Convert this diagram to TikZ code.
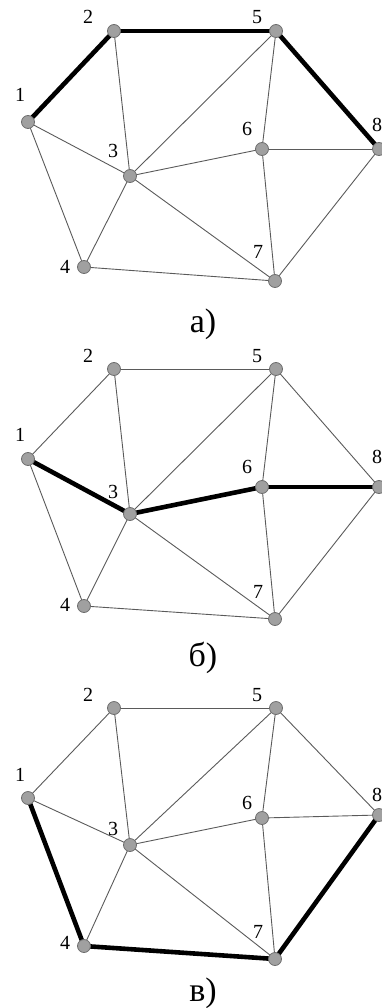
\documentclass[tikz,border=0pt]{standalone}
\usepackage{fontspec}
\setmainfont{Liberation Serif}
\usetikzlibrary{backgrounds}
\definecolor{vgray}{HTML}{A0A0A0}
\definecolor{vborder}{HTML}{6E6E6E}
\definecolor{egray}{HTML}{5A5A5A}
\tikzset{
  vert/.style={circle, fill=vgray, draw=vborder, line width=0.8pt, minimum size=13pt, inner sep=0pt},
  edgeln/.style={draw=egray, line width=0.9pt},
  hl/.style={draw=black, line width=4.6pt},
  num/.style={font=\fontsize{20}{20}\selectfont, inner sep=0pt},
  capt/.style={font=\fontsize{34}{34}\selectfont, inner sep=0pt, anchor=base}
}
\begin{document}
\begin{tikzpicture}[x=1pt,y=-1pt]
\useasboundingbox (0,0) rectangle (382,1008);
% graph a
\node[vert] (a1) at (28,122) {};
\node[vert] (a2) at (114,31) {};
\node[vert] (a5) at (276,31) {};
\node[vert] (a8) at (379,149) {};
\node[vert] (a6) at (262,149) {};
\node[vert] (a3) at (130,176) {};
\node[vert] (a4) at (84,267) {};
\node[vert] (a7) at (275,281) {};
\node[num] (la1) at (20,95) {1};
\node[num] (la2) at (88,17) {2};
\node[num] (la5) at (257,17) {5};
\node[num] (la6) at (247,129) {6};
\node[num] (la3) at (113,151) {3};
\node[num] (la8) at (377,125) {8};
\node[num] (la4) at (65,267) {4};
\node[num] (la7) at (258,252) {7};
\node[capt] (capa) at (203,332) {а)};
% graph b
\node[vert] (b1) at (28,459) {};
\node[vert] (b2) at (114,369) {};
\node[vert] (b5) at (276,369) {};
\node[vert] (b8) at (379,487) {};
\node[vert] (b6) at (262,487) {};
\node[vert] (b3) at (130,514) {};
\node[vert] (b4) at (84,606) {};
\node[vert] (b7) at (275,619) {};
\node[num] (lb1) at (20,435) {1};
\node[num] (lb2) at (88,356) {2};
\node[num] (lb5) at (257,356) {5};
\node[num] (lb6) at (247,467) {6};
\node[num] (lb3) at (113,492) {3};
\node[num] (lb8) at (377,457) {8};
\node[num] (lb4) at (65,605) {4};
\node[num] (lb7) at (258,592) {7};
\node[capt] (capb) at (203,666) {б)};
% graph c
\node[vert] (c1) at (28,798) {};
\node[vert] (c2) at (114,708) {};
\node[vert] (c5) at (276,708) {};
\node[vert] (c8) at (379,815) {};
\node[vert] (c6) at (262,818) {};
\node[vert] (c3) at (130,845) {};
\node[vert] (c4) at (84,946) {};
\node[vert] (c7) at (275,959) {};
\node[num] (lc1) at (20,775) {1};
\node[num] (lc2) at (88,695) {2};
\node[num] (lc5) at (257,695) {5};
\node[num] (lc6) at (247,803) {6};
\node[num] (lc3) at (113,829) {3};
\node[num] (lc8) at (377,795) {8};
\node[num] (lc4) at (65,943) {4};
\node[num] (lc7) at (258,932) {7};
\node[capt] (capc) at (203,1001) {в)};
\begin{pgfonlayer}{background}
\foreach \g in {a,b,c}{
  \foreach \u/\v in {1/2,2/5,5/8,1/3,1/4,2/3,3/5,3/6,3/4,3/7,4/7,5/6,6/8,6/7,7/8}{
    \draw[edgeln] (\g\u.center) -- (\g\v.center);
  }
}
\draw[hl] (a1.center) -- (a2.center);
\draw[hl] (a2.center) -- (a5.center);
\draw[hl] (a5.center) -- (a8.center);
\draw[hl] (b1.center) -- (b3.center);
\draw[hl] (b3.center) -- (b6.center);
\draw[hl] (b6.center) -- (b8.center);
\draw[hl] (c1.center) -- (c4.center);
\draw[hl] (c4.center) -- (c7.center);
\draw[hl] (c7.center) -- (c8.center);
\end{pgfonlayer}
\end{tikzpicture}
\end{document}
